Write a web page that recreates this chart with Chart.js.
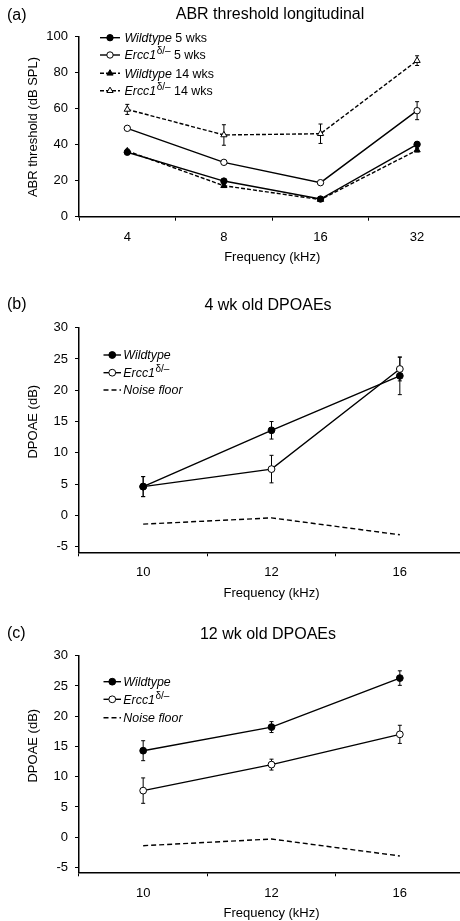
<!DOCTYPE html>
<html><head><meta charset="utf-8">
<script src="https://cdn.jsdelivr.net/npm/chart.js@4.4.0/dist/chart.umd.min.js"></script>
<style>
html,body{margin:0;padding:0;background:#fff;overflow:hidden;}
#wrap{position:relative;width:460px;height:921px;overflow:hidden;background:#fff;}
.p{position:absolute;left:0;width:470px;}
canvas{display:block;}
</style></head><body>
<div id="wrap">
<div class="p" style="top:0;height:280px"><canvas id="ca" width="470" height="280"></canvas></div>
<div class="p" style="top:290px;height:320px"><canvas id="cb" width="470" height="320"></canvas></div>
<div class="p" style="top:610px;height:315px"><canvas id="cc" width="470" height="315"></canvas></div>
</div>
<script>
// ---------- DATA ----------
const abrFreqs = ['4', '8', '16', '32'];
const abrTicks = [0, 20, 40, 60, 80, 100];
const abrWt5 = [35.8, 19.8, 9.8, 40.2];
const abrWt5Err = [1.0, 1.0, 0.8, 1.5];
const abrMut5 = [49.1, 30.2, 18.9, 58.9];
const abrMut5Err = [1.0, 1.0, 1.0, 5.0];
const abrWt14 = [36.5, 17.2, 9.5, 37.0];
const abrWt14Err = [1.0, 1.0, 1.0, 1.0];
const abrMut14 = [59.6, 45.4, 46.1, 86.7];
const abrMut14Err = [2.8, 5.7, 5.4, 2.7];

const dpFreqs = ['10', '12', '16'];
const dpTicks = [-5, 0, 5, 10, 15, 20, 25, 30];
const dp4Wt = [4.6, 13.6, 22.3];
const dp4WtErr = [1.6, 1.4, 3.0];
const dp4Mut = [4.6, 7.4, 23.4];
const dp4MutErr = [1.6, 2.2, 1.9];
const dp4Noise = [-1.4, -0.4, -3.1];
const dp12Wt = [14.3, 18.2, 26.3];
const dp12WtErr = [1.65, 0.9, 1.2];
const dp12Mut = [7.7, 12.0, 17.0];
const dp12MutErr = [2.1, 0.9, 1.5];
const dp12Noise = [-1.4, -0.3, -3.1];

// ---------- STYLE ----------
const FONT = "'Liberation Sans', Arial, Helvetica, sans-serif";
Chart.defaults.font.family = FONT;
Chart.defaults.color = '#000';

const errorBarPlugin = {
  id: 'errorBars',
  beforeDatasetsDraw(chart) {
    const ctx = chart.ctx;
    const ys = chart.scales.y;
    chart.data.datasets.forEach((ds, di) => {
      if (!ds.errors) return;
      const meta = chart.getDatasetMeta(di);
      ctx.save();
      ctx.strokeStyle = '#000';
      ctx.lineWidth = 1;
      meta.data.forEach((pt, i) => {
        const e = ds.errors[i];
        if (!e) return;
        const v = ds.data[i];
        const y1 = ys.getPixelForValue(v + e), y2 = ys.getPixelForValue(v - e);
        const x = pt.x;
        ctx.beginPath();
        ctx.moveTo(x, y1); ctx.lineTo(x, y2);
        ctx.moveTo(x - 2, y1); ctx.lineTo(x + 2, y1);
        ctx.moveTo(x - 2, y2); ctx.lineTo(x + 2, y2);
        ctx.stroke();
      });
      ctx.restore();
    });
  }
};

const textPlugin = {
  id: 'panelText',
  afterDraw(chart, args, opts) {
    const ctx = chart.ctx;
    ctx.save();
    ctx.fillStyle = '#000';
    ctx.textBaseline = 'middle';
    if (opts.letter) {
      ctx.font = '16px ' + FONT;
      ctx.textAlign = 'left';
      ctx.fillText(opts.letter.text, opts.letter.x, opts.letter.y);
    }
    if (opts.title) {
      ctx.font = '16px ' + FONT;
      ctx.textAlign = 'center';
      ctx.fillText(opts.title.text, opts.title.x, opts.title.y);
    }
    if (opts.ylabel) {
      ctx.font = '13px ' + FONT;
      ctx.textAlign = 'center';
      ctx.translate(opts.ylabel.x, opts.ylabel.y);
      ctx.rotate(-Math.PI / 2);
      ctx.fillText(opts.ylabel.text, 0, 0);
    }
    ctx.restore();
  }
};

const legendPlugin = {
  id: 'customLegend',
  afterDraw(chart, args, opts) {
    if (!opts.rows) return;
    const ctx = chart.ctx;
    chart.data.datasets.forEach((ds, i) => {
      const y = opts.rows[i];
      ctx.save();
      ctx.strokeStyle = '#000';
      ctx.lineWidth = ds.borderWidth || 1.4;
      ctx.setLineDash(ds.borderDash || []);
      ctx.beginPath();
      ctx.moveTo(opts.x1, y); ctx.lineTo(opts.x2, y);
      ctx.stroke();
      ctx.setLineDash([]);
      if (ds.pointRadius > 0) {
        ctx.fillStyle = ds.pointBackgroundColor;
        ctx.strokeStyle = '#000';
        ctx.lineWidth = 1;
        Chart.helpers.drawPoint(ctx, {pointStyle: ds.pointStyle, radius: ds.pointRadius, borderWidth: 1, rotation: 0}, (opts.x1 + opts.x2) / 2, y);
      }
      ctx.fillStyle = '#000';
      ctx.textBaseline = 'alphabetic';
      ctx.textAlign = 'left';
      let x = opts.textX;
      const base = y + 4.4;
      (ds.legendParts || []).forEach(p => {
        if (p.sup) {
          ctx.font = '10px ' + FONT;
          ctx.fillText(p.t, x + 0.5, base - 5);
          x += 0.5;
        } else {
          ctx.font = (p.i ? 'italic ' : '') + '12.4px ' + FONT;
          ctx.fillText(p.t, x, base);
        }
        x += ctx.measureText(p.t).width;
      });
      ctx.restore();
    });
  }
};

function makeScales(cfg) {
  return {
    x: {
      type: 'category',
      offset: true,
      grid: {offset: true, drawOnChartArea: false, drawTicks: true, tickLength: 4, color: '#000', tickWidth: 1},
      border: {display: true, color: '#000', width: 1.5},
      ticks: {padding: cfg.xPad, font: {size: 13}, color: '#000', maxRotation: 0, autoSkip: false},
      title: {display: true, text: 'Frequency (kHz)', font: {size: 13}, padding: 0, color: '#000'},
      afterFit(s) { s.height = cfg.xHeight; }
    },
    y: {
      min: cfg.yMin, max: cfg.yMax,
      afterBuildTicks(s) { s.ticks = cfg.yTicks.map(v => ({value: v})); },
      grid: {drawOnChartArea: false, drawTicks: true, tickLength: 4, color: '#000', tickWidth: 1},
      border: {display: true, color: '#000', width: 1.5},
      ticks: {padding: 7, font: {size: 13}, color: '#000'},
      afterFit(s) { s.width = 79; }
    }
  };
}

function ds(label, data, errors, opt) {
  return Object.assign({
    label, data, errors,
    borderColor: '#000', borderWidth: 1.4,
    pointBorderColor: '#000', pointBorderWidth: 1,
    pointRadius: 3.2, pointHoverRadius: 3.2,
    tension: 0, fill: false
  }, opt);
}

function makeChart(id, labels, datasets, cfg) {
  return new Chart(document.getElementById(id), {
    type: 'line',
    data: {labels, datasets},
    plugins: [errorBarPlugin, textPlugin, legendPlugin],
    options: {
      responsive: false, animation: false, devicePixelRatio: 1,
      layout: {padding: cfg.padding},
      plugins: {
        legend: {display: false}, title: {display: false}, tooltip: {enabled: false},
        panelText: cfg.text,
        customLegend: cfg.legend
      },
      scales: makeScales(cfg)
    }
  });
}

const ERCC = [{t: 'Ercc1', i: true}, {t: 'δ/–', sup: true}];

// Panel (a)
makeChart('ca', abrFreqs, [
  ds('Wildtype 5 wks', abrWt5, abrWt5Err, {pointStyle: 'circle', pointBackgroundColor: '#000', legendParts: [{t: 'Wildtype', i: true}, {t: ' 5 wks'}]}),
  ds('Ercc1 5 wks', abrMut5, abrMut5Err, {pointStyle: 'circle', pointBackgroundColor: '#fff', legendParts: ERCC.concat([{t: ' 5 wks'}])}),
  ds('Wildtype 14 wks', abrWt14, abrWt14Err, {pointStyle: 'triangle', pointRadius: 3.6, pointBackgroundColor: '#000', borderDash: [4, 2], legendParts: [{t: 'Wildtype', i: true}, {t: ' 14 wks'}]}),
  ds('Ercc1 14 wks', abrMut14, abrMut14Err, {pointStyle: 'triangle', pointRadius: 3.6, pointBackgroundColor: '#fff', borderDash: [4, 2], legendParts: ERCC.concat([{t: ' 14 wks'}])})
], {
  padding: {top: 36.7, left: 0, right: 4.3, bottom: 15.2},
  xHeight: 48.1, xPad: 8.5, yMin: 0, yMax: 100, yTicks: abrTicks,
  text: {letter: {text: '(a)', x: 7, y: 16}, title: {text: 'ABR threshold longitudinal', x: 270, y: 15}, ylabel: {text: 'ABR threshold (dB SPL)', x: 33, y: 127}},
  legend: {x1: 100, x2: 120, textX: 124.5, rows: [37.7, 55, 73.3, 90.7]}
});

// Panel (b)
makeChart('cb', dpFreqs, [
  ds('Wildtype', dp4Wt, dp4WtErr, {pointStyle: 'circle', pointRadius: 3.4, pointBackgroundColor: '#000', legendParts: [{t: 'Wildtype', i: true}]}),
  ds('Ercc1', dp4Mut, dp4MutErr, {pointStyle: 'circle', pointRadius: 3.4, pointBackgroundColor: '#fff', legendParts: ERCC}),
  ds('Noise floor', dp4Noise, null, {pointRadius: 0, borderDash: [5, 3], legendParts: [{t: 'Noise floor', i: true}]})
], {
  padding: {top: 37.7, left: 0, right: 6, bottom: 8.9},
  xHeight: 48.8, xPad: 8.6, yMin: -5.9, yMax: 30, yTicks: dpTicks,
  text: {letter: {text: '(b)', x: 7, y: 15}, title: {text: '4 wk old DPOAEs', x: 268, y: 16}, ylabel: {text: 'DPOAE (dB)', x: 33, y: 131.7}},
  legend: {x1: 103.5, x2: 121, textX: 123.3, rows: [65, 82.7, 100]}
});

// Panel (c)
makeChart('cc', dpFreqs, [
  ds('Wildtype', dp12Wt, dp12WtErr, {pointStyle: 'circle', pointRadius: 3.4, pointBackgroundColor: '#000', legendParts: [{t: 'Wildtype', i: true}]}),
  ds('Ercc1', dp12Mut, dp12MutErr, {pointStyle: 'circle', pointRadius: 3.4, pointBackgroundColor: '#fff', legendParts: ERCC}),
  ds('Noise floor', dp12Noise, null, {pointRadius: 0, borderDash: [5, 3], legendParts: [{t: 'Noise floor', i: true}]})
], {
  padding: {top: 45.7, left: 0, right: 6, bottom: 3.9},
  xHeight: 48.8, xPad: 9.0, yMin: -5.8, yMax: 30, yTicks: dpTicks,
  text: {letter: {text: '(c)', x: 7, y: 24}, title: {text: '12 wk old DPOAEs', x: 268, y: 25}, ylabel: {text: 'DPOAE (dB)', x: 33, y: 135.7}},
  legend: {x1: 103.5, x2: 121, textX: 123.3, rows: [71.7, 89.3, 107.7]}
});
</script>
</body></html>
